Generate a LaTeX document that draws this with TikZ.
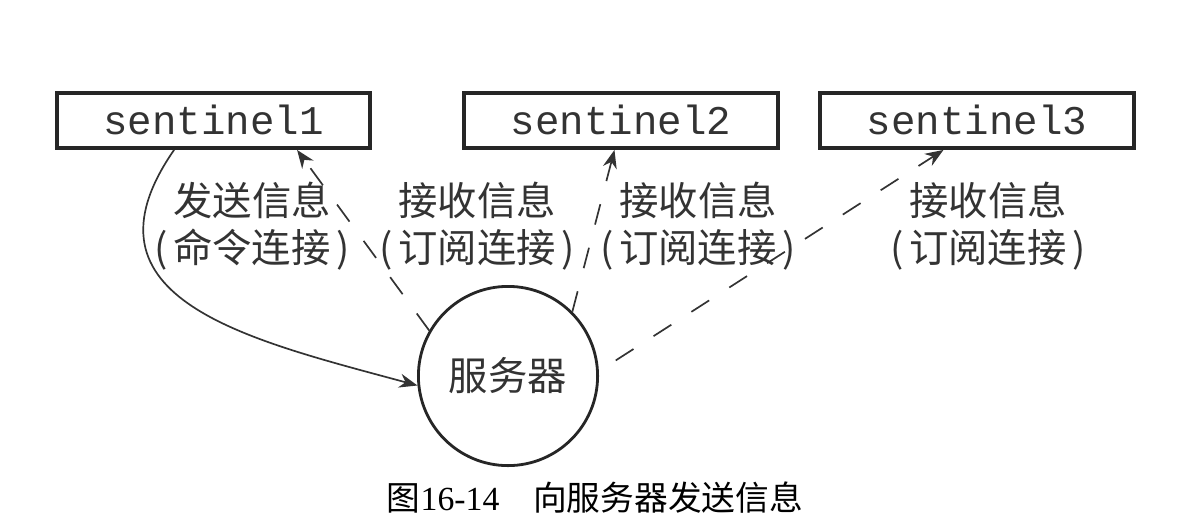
\documentclass[tikz,border=0pt]{standalone}
\usepackage{fontspec}
\setmainfont{Noto Sans CJK SC}
\newfontfamily\sentfont{Liberation Mono}
\newfontfamily\numfont{Liberation Serif}
\usetikzlibrary{arrows.meta}
\newcommand{\pgap}{\hspace{.15em}}

\begin{document}
\begin{tikzpicture}[
  sentbox/.style={draw=black!85, line width=2.6pt, minimum width=7.835cm, minimum height=1.385cm,
    inner sep=0pt, text=black!80, font=\sentfont\fontsize{29}{29}\selectfont},
  srvnode/.style={circle, draw=black!85, line width=2pt, minimum size=4.48cm, inner sep=0pt,
    text=black!80, font=\fontsize{28}{28}\selectfont},
  lbl/.style={align=center, text=black!80, font=\fontsize{28}{33.4}\selectfont},
  link/.style={line width=1.2pt, draw=black!80, -{Stealth[length=13pt,width=10pt]}},
  sub/.style={link, dash pattern=on 15pt off 17pt}]
  \useasboundingbox (0,0) rectangle (29.5,-13.15);
  \node[sentbox] (s1) at (5.34,-3.01) {sentinel1};
  \node[sentbox] (s2) at (15.525,-3.01) {sentinel2};
  \node[sentbox] (s3) at (24.425,-3.01) {sentinel3};
  \node[srvnode] (srv) at (12.7,-9.4) {服务器};
  \node[lbl] (t1) at (6.3,-5.66) {发送信息\\(\pgap 命令连接\pgap)};
  \node[lbl] (t2) at (11.93,-5.66) {接收信息\\(\pgap 订阅连接\pgap)};
  \node[lbl] (t3) at (17.45,-5.66) {接收信息\\(\pgap 订阅连接\pgap)};
  \node[lbl] (t4) at (24.7,-5.66) {接收信息\\(\pgap 订阅连接\pgap)};
  \node[font=\fontsize{24}{24}\selectfont] (cap) at (14.875,-12.45) {图{\numfont 16-14}　向服务器发送信息};
  \draw[link] ([xshift=2.975cm]s1.south west) .. controls (1.75,-7.5) and (6.25,-8.5) .. (srv.186);
  \draw[sub] (srv.150) -- ([xshift=6.05cm]s1.south west);
  \draw[sub] (srv.45) -- ([xshift=3.8cm]s2.south west);
  \draw[sub, shorten <=0.5cm] (srv.3) -- ([xshift=3.125cm]s3.south west);
\end{tikzpicture}
\end{document}
